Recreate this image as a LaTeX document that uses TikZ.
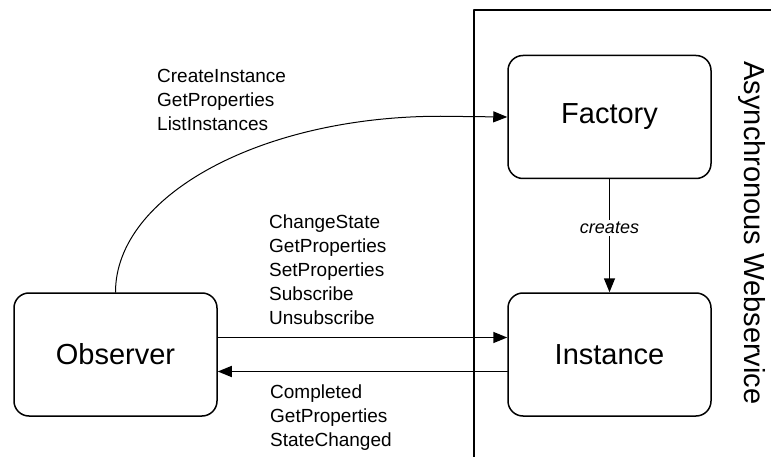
\documentclass[tikz,border=0pt]{standalone}
\usepackage{fontspec}
\setmainfont{Liberation Sans}
\usetikzlibrary{arrows.meta}

\begin{document}
\begin{tikzpicture}[line cap=round,line join=round,>={Triangle[length=14pt,width=11pt]},x=1pt,y=-1pt,
	state/.style={draw,line width=1.5pt,rounded corners=15pt,minimum width=203pt,minimum height=123pt,inner sep=0pt,font=\fontsize{29}{32}\selectfont},
	calls/.style={anchor=north west,align=left,inner sep=0pt,font=\fontsize{19}{24}\selectfont},
	msg/.style={->,line width=1.5pt}]
				\useasboundingbox (0,0) rectangle (771,457);
				% webservice boundary
				\draw [line width=1.5pt] (474,457) |- (771,10);
				\node [rotate=-90,inner sep=0pt,font=\fontsize{29}{32}\selectfont] (svc) at (752,233) {Asynchronous Webservice};
				\node [state] (obs) at (115.5,354.5) {Observer};
				\node [state] (fac) at (609.5,117) {Factory};
				\node [state] (inst) at (609.5,354.5) {Instance};
				\draw [msg,line width=1pt] (obs.north) .. controls +(0,-97) and +(-179,0) .. ++(325,-176) -- (fac.west);
				\draw [msg] (fac) -- node [pos=0.43,fill=white,inner sep=2pt,font=\itshape\fontsize{18}{20}\selectfont] (lbl) {creates} (inst);
				\draw [msg] ([yshift=17pt]obs.east) -- ([yshift=17pt]inst.west);
				\draw [msg] ([yshift=-17pt]inst.west) -- ([yshift=-17pt]obs.east);
				\node [calls] (ops1) at (157,69) {CreateInstance\\GetProperties\\ListInstances};
				\node [calls] (ops2) at (269,215) {ChangeState\\GetProperties\\SetProperties\\Subscribe\\Unsubscribe};
				\node [calls] (ops3) at (270,385) {Completed\\GetProperties\\StateChanged};
			\end{tikzpicture}
\end{document}
